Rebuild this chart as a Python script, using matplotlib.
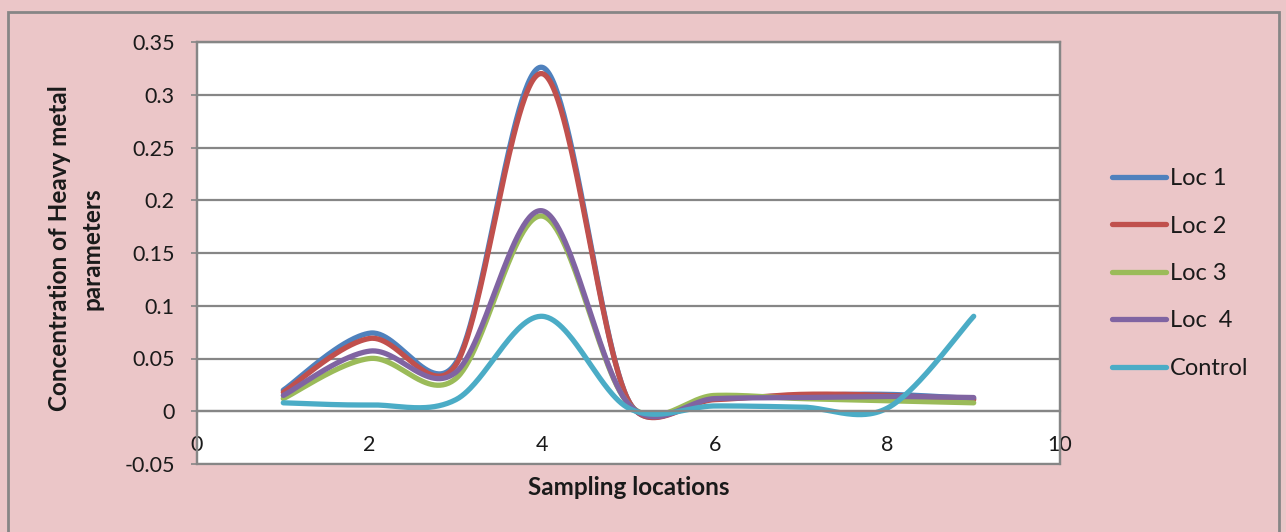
import numpy as np
import matplotlib
matplotlib.use("Agg")
import matplotlib.pyplot as plt
from matplotlib.patches import Rectangle

# ---- data ----
x_vals = [1, 2, 3, 4, 5, 6, 7, 8, 9]
loc1 = [0.020, 0.074, 0.046, 0.326, 0.010, 0.012, 0.015, 0.016, 0.012]
loc2 = [0.018, 0.069, 0.044, 0.320, 0.010, 0.011, 0.016, 0.015, 0.011]
loc3 = [0.012, 0.050, 0.031, 0.185, 0.007, 0.015, 0.012, 0.010, 0.008]
loc4 = [0.015, 0.057, 0.037, 0.190, 0.007, 0.012, 0.013, 0.014, 0.013]
control = [0.008, 0.006, 0.011, 0.090, 0.003, 0.005, 0.004, 0.003, 0.090]
series_names = ["Loc 1", "Loc 2", "Loc 3", "Loc  4", "Control"]
x_ticks = [0, 2, 4, 6, 8, 10]
y_ticks = [-0.05, 0, 0.05, 0.1, 0.15, 0.2, 0.25, 0.3, 0.35]
y_ticklabels = ["-0.05", "0", "0.05", "0.1", "0.15", "0.2", "0.25", "0.3", "0.35"]

colors = ["#4F81BD", "#C0504D", "#9BBB59", "#8064A2", "#4BACC6"]
bg = "#EBC6C8"
gray = "#868686"
txt = "#1a1a1a"

plt.rcParams['font.family'] = ['Lato', 'DejaVu Sans']


def smooth_display(ax, xs, ys, n=60):
    """Excel-like smoothed line: Bezier segments in display space; control
    arm = tangent/6, capped at half the length of the segment it lies on."""
    P = ax.transData.transform(np.column_stack([xs, ys]))
    m = len(P)

    def arm(i, direction):
        prev = P[i - 1] if i > 0 else P[i]
        nxt = P[i + 1] if i + 1 < m else P[i]
        T = nxt - prev
        L = np.linalg.norm(T)
        if L == 0:
            return np.zeros(2)
        other = P[i + 1] if direction > 0 else P[i - 1]
        seg = np.linalg.norm(other - P[i])
        length = min(L / 6.0, seg / 2.0)
        return T / L * length

    segs = []
    for i in range(m - 1):
        p0, p3 = P[i], P[i + 1]
        c1 = p0 + arm(i, +1)
        c2 = p3 - arm(i + 1, -1)
        t = np.linspace(0, 1, n, endpoint=(i == m - 2))[:, None]
        B = ((1 - t) ** 3) * p0 + 3 * ((1 - t) ** 2) * t * c1 + 3 * (1 - t) * t ** 2 * c2 + t ** 3 * p3
        segs.append(B)
    B = np.vstack(segs)
    D = ax.transData.inverted().transform(B)
    return D[:, 0], D[:, 1]


fig = plt.figure(figsize=(12.86, 5.32), dpi=100, facecolor=bg)
fig.add_artist(Rectangle((8 / 1286, -0.01), (1279 - 8) / 1286, (532 - 12) / 532 + 0.01,
                         transform=fig.transFigure, fill=False, ec=gray, lw=2))

ax = fig.add_axes([197 / 1286, (532 - 464) / 532, (1060 - 197) / 1286, (464 - 42) / 532])
ax.set_facecolor("white")
ax.set_xlim(0, 10)
ax.set_ylim(-0.05, 0.35)

ax.set_yticks(y_ticks)
ax.set_yticklabels(y_ticklabels)
ax.set_xticks(x_ticks)
ax.set_xticklabels([str(v) for v in x_ticks])
ax.yaxis.grid(True, color=gray, lw=1.6)
ax.set_axisbelow(True)

for s in ["top", "right", "left"]:
    ax.spines[s].set_color(gray)
    ax.spines[s].set_linewidth(1.6)
ax.spines["bottom"].set_position(("data", 0))
ax.spines["bottom"].set_color(gray)
ax.spines["bottom"].set_linewidth(1.6)
ax.add_patch(Rectangle((0, 0), 1, 1, transform=ax.transAxes, fill=False,
                       ec=gray, lw=1.6, zorder=5, clip_on=False))

ax.tick_params(axis="y", length=4, width=1.2, color=gray, labelsize=15.5, pad=12,
               labelcolor=txt)
ax.tick_params(axis="x", length=0, labelsize=15.5, pad=17, labelcolor=txt)

for ys, c, name in zip([loc1, loc2, loc3, loc4, control], colors, series_names):
    sx, sy = smooth_display(ax, x_vals, ys)
    ax.plot(sx, sy, color=c, lw=3.8, label=name, solid_capstyle="round")

ax.set_xlabel("Sampling locations", fontsize=17.5, fontweight="bold", labelpad=0,
              color=txt)
ax.xaxis.set_label_coords(0.5, -0.029)
ax.set_ylabel("Concentration of Heavy metal\nparameters", fontsize=17.5,
              fontweight="bold", linespacing=1.5, color=txt)
ax.yaxis.set_label_coords(-0.108, 0.511)

leg = ax.legend(loc="center left", bbox_to_anchor=(1112 / 1286, (532 - 273.5) / 532),
                bbox_transform=fig.transFigure, frameon=False, fontsize=17,
                handlelength=2.3, handletextpad=0.17, labelspacing=1.12,
                borderaxespad=0, borderpad=0)
for t in leg.get_texts():
    t.set_color(txt)

fig.savefig("out.png", dpi=100, facecolor=bg)
